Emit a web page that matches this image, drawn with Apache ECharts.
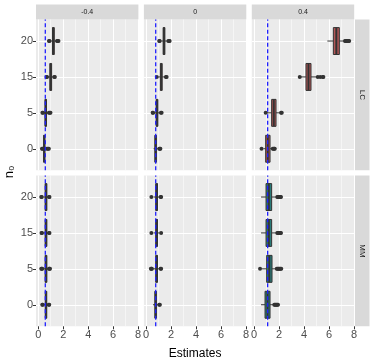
<!DOCTYPE html>
<html>
<head>
<meta charset="utf-8">
<script src="https://cdn.jsdelivr.net/npm/echarts@6/dist/echarts.min.js"></script>
<style>
  html, body { margin: 0; padding: 0; background: #fff; }
  #chart { width: 374px; height: 361px; }
</style>
</head>
<body>
<div id="chart"></div>
<script>
// facets and categories
const cols = ['-0.4', '0', '0.4']
const rows = ['LC', 'MM']
const n0 = ['0', '5', '15', '20']
const xTicks = [0, 2, 4, 6, 8]
const xMinor = [1, 3, 5, 7]
// dashed line per column
const refLine = [0.565, 0.765, 1.09]

// boxes: [lo, q1, median, q3, hi] for n0 = 0, 5, 15, 20, one list per column
const lcBoxes = [
  [[0.40, 0.43, 0.48, 0.53, 0.60], [0.45, 0.54, 0.60, 0.66, 0.78], [0.78, 0.93, 1.00, 1.07, 1.20], [1.00, 1.14, 1.21, 1.28, 1.42]],
  [[0.60, 0.70, 0.76, 0.82, 0.95], [0.68, 0.80, 0.87, 0.94, 1.08], [0.98, 1.14, 1.21, 1.28, 1.45], [1.20, 1.36, 1.43, 1.50, 1.68]],
  [[0.75, 0.93, 1.10, 1.28, 1.45], [1.00, 1.41, 1.58, 1.76, 2.05], [3.72, 4.16, 4.36, 4.56, 5.00], [5.87, 6.35, 6.59, 6.83, 7.20]]
]
const mmBoxes = [
  [[0.45, 0.56, 0.62, 0.68, 0.78], [0.42, 0.55, 0.62, 0.69, 0.80], [0.42, 0.55, 0.62, 0.69, 0.80], [0.42, 0.55, 0.62, 0.69, 0.80]],
  [[0.55, 0.70, 0.76, 0.82, 0.95], [0.60, 0.77, 0.84, 0.91, 1.06], [0.60, 0.77, 0.84, 0.91, 1.06], [0.60, 0.77, 0.84, 0.91, 1.06]],
  [[0.56, 0.88, 1.08, 1.28, 1.58], [0.64, 1.01, 1.22, 1.44, 1.75], [0.56, 0.96, 1.18, 1.41, 1.78], [0.56, 0.96, 1.18, 1.41, 1.78]]
]
// outliers, same nesting
const lcOut = [
  [[0.30, 0.34, 0.70, 0.78, 0.85], [0.33, 0.38, 0.85, 0.92, 0.98], [0.66, 0.70, 1.28, 1.33], [0.86, 0.90, 1.50, 1.56, 1.62]],
  [[1.05, 1.10, 1.14], [0.52, 0.56, 1.18, 1.24], [0.85, 1.58, 1.64], [1.05, 1.08, 1.78, 1.84, 1.88]],
  [[0.60, 1.50, 1.56, 1.62, 1.66], [0.93, 2.16, 2.22], [3.66, 5.10, 5.30, 5.50, 5.55], [7.28, 7.35, 7.42, 7.50, 7.56, 7.62]]
]
const mmOut = [
  [[0.32, 0.36, 0.84, 0.88], [0.24, 0.28, 0.32, 0.86, 0.90, 0.94], [0.26, 0.30, 0.86, 0.90], [0.24, 0.28, 0.86, 0.90]],
  [[1.05, 1.10], [0.38, 0.42, 0.46, 1.16, 1.20], [0.42, 1.20], [0.42, 1.16, 1.20]],
  [[1.62, 1.68, 1.74, 1.80, 1.86, 1.92], [0.48, 1.82, 1.88, 1.94, 2.00, 2.06, 2.12, 2.18], [1.86, 1.92, 1.98, 2.04, 2.10, 2.16], [1.86, 1.92, 1.98, 2.04, 2.10, 2.16]]
]

const fills = ['#B25656', '#2A7B78']
const font = 'Liberation Sans'
const colLeft = [36, 143.9, 251.8]
const colW = 102.4
const rowTop = [19.5, 175.5]
const rowH = 150.8

let chart = echarts.init(document.getElementById('chart'))

let grids = [], xAxes = [], yAxes = [], series = [], graphics = []

function boxRenderer (fill) {
  return function (params, api) {
    let y = api.value(0)
    let lo = api.coord([api.value(1), y])
    let q1 = api.coord([api.value(2), y])
    let md = api.coord([api.value(3), y])
    let q3 = api.coord([api.value(4), y])
    let hi = api.coord([api.value(5), y])
    let h = api.size([0, 0.75])[1]
    let cy = lo[1]
    return {
      type: 'group',
      children: [
        { type: 'line', shape: { x1: lo[0], y1: cy, x2: q1[0], y2: cy }, style: { stroke: '#333', lineWidth: 1 } },
        { type: 'line', shape: { x1: q3[0], y1: cy, x2: hi[0], y2: cy }, style: { stroke: '#333', lineWidth: 1 } },
        { type: 'rect', shape: { x: q1[0], y: cy - h / 2, width: q3[0] - q1[0], height: h }, style: { fill: fill, stroke: '#333', lineWidth: 1 } },
        { type: 'line', shape: { x1: md[0], y1: cy - h / 2, x2: md[0], y2: cy + h / 2 }, style: { stroke: '#333', lineWidth: 2 } }
      ]
    }
  }
}

rows.forEach((rowName, r) => {
  let boxes = r === 0 ? lcBoxes : mmBoxes
  let outs = r === 0 ? lcOut : mmOut
  cols.forEach((colName, c) => {
    let g = r * 3 + c
    grids.push({
      left: colLeft[c], top: rowTop[r], width: colW, height: rowH,
      show: true, backgroundColor: '#EBEBEB', borderWidth: 0,
      outerBoundsMode: 'none'
    })
    xAxes.push({
      gridIndex: g, type: 'value', min: -0.18, max: 8.02, position: 'bottom',
      axisLine: { show: false, onZero: false },
      axisTick: { show: r === 1, length: 3, customValues: xTicks, lineStyle: { color: '#333' } },
      axisLabel: { show: r === 1, customValues: xTicks, color: '#4D4D4D', fontSize: 11, margin: 3, fontFamily: font },
      splitLine: { show: true, lineStyle: { color: '#fff', width: 1 } },
      name: g === 4 ? 'Estimates' : '',
      nameLocation: 'middle', nameGap: 21,
      nameTextStyle: { color: '#000', fontSize: 12, fontFamily: font }
    })
    xAxes.push({
      gridIndex: g, type: 'value', min: -0.18, max: 8.02, position: 'bottom',
      axisLine: { show: false, onZero: false },
      axisTick: { show: false, customValues: xMinor },
      axisLabel: { show: false, customValues: xMinor },
      splitLine: { show: true, lineStyle: { color: '#fff', width: 0.5 } }
    })
    yAxes.push({
      gridIndex: g, type: 'value', min: -0.6, max: 3.6,
      axisLine: { show: false, onZero: false },
      axisTick: { show: c === 0, length: 3, customValues: [0, 1, 2, 3], lineStyle: { color: '#333' } },
      axisLabel: {
        show: c === 0, customValues: [0, 1, 2, 3], formatter: v => n0[v],
        color: '#4D4D4D', fontSize: 11, margin: 3, fontFamily: font
      },
      splitLine: { show: true, lineStyle: { color: '#fff', width: 1 } }
    })
    series.push({
      type: 'custom', xAxisIndex: g * 2, yAxisIndex: g, z: 2, silent: true,
      renderItem: boxRenderer(fills[r]),
      encode: { x: [1, 2, 3, 4, 5], y: 0 },
      data: boxes[c].map((b, i) => [i].concat(b))
    })
    let pts = []
    outs[c].forEach((list, i) => list.forEach(v => pts.push([v, i])))
    series.push({
      type: 'scatter', xAxisIndex: g * 2, yAxisIndex: g, z: 3, silent: true,
      symbolSize: 4, itemStyle: { color: '#333', opacity: 1 },
      data: pts
    })
    // vertical dashed reference line
    series.push({
      type: 'line', xAxisIndex: g * 2, yAxisIndex: g, z: 5, silent: true,
      symbol: 'none', color: '#2020FF',
      lineStyle: { color: '#2020FF', type: [4, 2.5], width: 1.3 },
      data: [[refLine[c], -0.6], [refLine[c], 3.6]]
    })
  })
})

// facet strips
cols.forEach((name, c) => {
  graphics.push({ type: 'rect', shape: { x: colLeft[c], y: 4.5, width: colW, height: 15 }, style: { fill: '#D9D9D9' } })
  graphics.push({ type: 'text', x: colLeft[c] + colW / 2, y: 12, style: { text: name, fill: '#1A1A1A', fontSize: 7, fontFamily: font, align: 'center', verticalAlign: 'middle' } })
})
rows.forEach((name, r) => {
  graphics.push({ type: 'rect', shape: { x: 355, y: rowTop[r], width: 14.5, height: rowH }, style: { fill: '#D9D9D9' } })
  graphics.push({ type: 'text', x: 362.2, y: rowTop[r] + rowH / 2, rotation: -Math.PI / 2, style: { text: name, fill: '#1A1A1A', fontSize: 8, fontFamily: font, align: 'center', verticalAlign: 'middle' } })
})
graphics.push({ type: 'text', x: 9, y: 172, rotation: Math.PI / 2, style: { text: 'n₀', fill: '#000', fontSize: 13, fontFamily: font, align: 'center', verticalAlign: 'middle' } })

chart.setOption({
  animation: false,
  backgroundColor: '#fff',
  grid: grids,
  xAxis: xAxes,
  yAxis: yAxes,
  series: series,
  graphic: graphics
})
</script>
</body>
</html>
